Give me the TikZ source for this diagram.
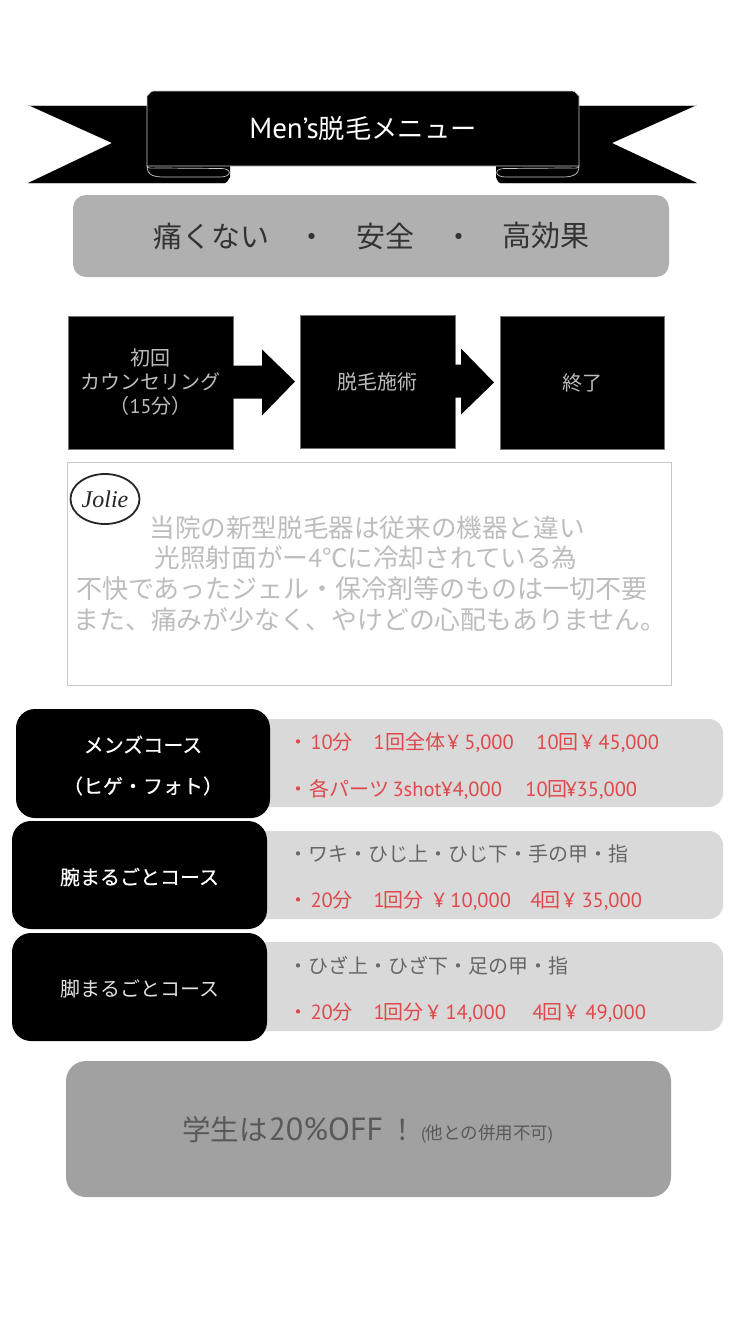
\documentclass[tikz,border=0pt]{standalone}
\usepackage{fontspec}
\setmainfont{Noto Sans CJK JP}
\newfontfamily\lat{PT Sans}
\newfontfamily\logo{Liberation Serif}
\newfontfamily\semi[FakeBold=0.4]{Noto Sans CJK JP}
\usetikzlibrary{calc,shapes.geometric}
\definecolor{outl}{HTML}{C8C8C8}
\definecolor{softg}{HTML}{BDBDBD}
\definecolor{pink}{HTML}{E0484C}
\definecolor{darkg}{HTML}{666666}
\newcommand{\fs}[1]{\fontsize{#1}{#1}\selectfont}
\tikzset{
 x=1pt,y=-1pt,
 panel/.style={inner sep=0pt,outer sep=0pt,align=center},
 solidbox/.style={panel,fill=black,draw=black!55!white,line width=.6pt},
 flowtext/.style={text=softg,font={\fontsize{20}{24}\selectfont}},
 coursebox/.style={panel,fill=black,rounded corners=19pt,text=white},
 pricebar/.style={panel,fill=black!15,rounded corners=14pt},
 priceline/.style={anchor=west,inner sep=0pt,outer sep=0pt,font=\fs{20}},
 ribbon/.style={fill=black,draw=outl,line width=.7pt,line join=round},
 fold/.style={draw=outl,line width=.7pt},
 flowarrow/.style={fill=black},
 bodytext/.style={panel,text=softg,font=\fs{25.6}},
}
\newcommand{\atx}[2]{\rlap{\hspace*{#1pt}#2}}
\newcommand{\nm}[1]{{\lat\fs{20.5}#1}}
\newcommand{\low}[1]{\raisebox{-2pt}[0.88em][0.12em]{#1}}
\newcommand{\boxat}[7]{\node[#2,minimum width={(#5-#3)*1pt},minimum height={(#6-#4)*1pt}] (#1) at ({(#3+#5)/2},{(#4+#6)/2}) {#7};}
\begin{document}
\begin{tikzpicture}
\useasboundingbox (0,0) rectangle (750,1334);
% ribbon
\fill[ribbon,draw=none] (147,105) -- (28,105) -- (112,143) -- (28,183) -- (225,183) to[out=0,in=90] (230,178) -- (230,160) -- (147,160) -- cycle;
\fill[ribbon,draw=none] (579,105) -- (697,105) -- (612,143) -- (697,183) -- (500,183) to[out=180,in=90] (496,178) -- (496,160) -- (579,160) -- cycle;
\draw[outl,line width=.5pt] (28,105) -- (147,105) (579,105) -- (697,105) (28,183) -- (225,183) (500,183) -- (697,183);
\draw[ribbon] (147,166) -- (147,95) to[out=-90,in=180] (153,91) -- (573,91) to[out=0,in=-90] (579,95) -- (579,166) -- cycle;
\draw[fold] (147,166) .. controls (147,176) and (155,177) .. (165,177) -- (220,177) .. controls (232,177) and (232,169) .. (222,168.5) -- (160,168) .. controls (152,168) and (147,169) .. (147,166);
\draw[fold] (579,166) .. controls (579,176) and (571,177) .. (561,177) -- (506,177) .. controls (494,177) and (494,169) .. (504,168.5) -- (566,168) .. controls (574,168) and (579,169) .. (579,166);
\node[panel,text=white] (title) at (363,129) {{\lat\fs{29}Men’s}\fs{26.3}脱毛メニュー};
% slogan
\boxat{slogan}{panel,fill=black!31,rounded corners=13pt}{73}{195}{669}{277}{}
\node[panel,text=black!80] (s1) at (211,236) {\fs{29}痛くない};
\node[panel,text=black!80] (s2) at (312,240) {\fs{29}・};
\node[panel,text=black!80] (s3) at (385,236) {\fs{29}安全};
\node[panel,text=black!80] (s4) at (459,240) {\fs{29}・};
\node[panel,text=black!80] (s5) at (546,236) {\fs{29}高効果};
% flow
\boxat{f1}{solidbox,flowtext}{68}{316}{233}{449}{初回\\カウンセリング\\（{\lat\fs{20}15}分）}
\boxat{f2}{solidbox,flowtext}{300}{315}{455}{448}{脱毛施術}
\boxat{f3}{solidbox,flowtext}{500}{316}{664}{449}{終了}
\fill[flowarrow] ($(f1.east)+(-1,-17)$) -- ($(f1.east)+(29,-17)$) -- ($(f1.east)+(29,-33)$) -- ($(f2.west)+(-5,0)$) -- ($(f1.east)+(29,33)$) -- ($(f1.east)+(29,16)$) -- ($(f1.east)+(-1,16)$) -- cycle;
\fill[flowarrow] ($(f2.east)+(-1,-17)$) -- ($(f2.east)+(6,-17)$) -- ($(f2.east)+(6,-33)$) -- ($(f3.west)+(-6,0)$) -- ($(f2.east)+(6,33)$) -- ($(f2.east)+(6,16)$) -- ($(f2.east)+(-1,16)$) -- cycle;
% info
\boxat{info}{panel,draw=outl,line width=1pt,fill=white}{67}{462}{671}{685}{}
\node[panel,draw=black!85,line width=1.8pt,ellipse,minimum width=69pt,minimum height=50pt] (logo) at (105,499) {};
\node[panel,text=black!85] (logot) at (105,499) {\fs{24}{\logo\itshape Jolie}};
\node[bodytext] (t1) at (367,528) {当院の新型脱毛器は従来の機器と違い};
\node[bodytext] (t2) at (366,558) {光照射面がー{\lat 4}℃に冷却されている為};
\node[bodytext,font=\fs{26}] (t3) at (362,589) {不快であったジェル・保冷剤等のものは一切不要};
\node[bodytext,font=\fs{25.8}] (t4) at (370,620) {また、痛みが少なく、やけどの心配もありません。};
% courses
\boxat{p1}{pricebar}{250}{719}{723}{807}{}
\boxat{p2}{pricebar}{250}{831}{723}{919}{}
\boxat{p3}{pricebar}{250}{942}{723}{1031}{}
\boxat{c1}{coursebox,font={\fontsize{20}{41}\selectfont\semi}}{16}{709}{270}{818}{\low{メンズコース}\\\low{（ヒゲ・フォト）}}
\boxat{c2}{coursebox,font={\fs{20}\semi}}{12}{821}{267}{929}{\low{腕まるごとコース}}
\boxat{c3}{coursebox,text=black!12,font=\fs{20}}{12}{933}{267}{1041}{\low{脚まるごとコース}}
\node[priceline,text=pink] (l1) at (288,743) {\atx{0}{・}\atx{22}{\nm{10}}\atx{44}{分}\atx{85}{\nm{1}}\atx{97}{回全体}\atx{159}{\nm{¥}}\atx{176}{\nm{5,000}}\atx{248}{\nm{10}}\atx{270}{回}\atx{293}{\nm{¥}}\atx{310}{\nm{45,000}}};
\node[priceline,text=pink] (l2) at (288,790) {\atx{0}{・}\atx{21}{各パーツ}\atx{104}{\nm{3shot¥4,000}}\atx{237}{\nm{10}}\atx{259}{回}\atx{277}{\nm{¥35,000}}};
\node[priceline,text=darkg] (l3) at (288,854) {\atx{0}{・}\atx{20}{ワキ・ひじ上・ひじ下・手の甲・指}};
\node[priceline,text=pink] (l4) at (288,901) {\atx{0}{・}\atx{22}{\nm{20}}\atx{44}{分}\atx{85}{\nm{1}}\atx{95}{回分}\atx{145}{\nm{¥}}\atx{162}{\nm{10,000}}\atx{242}{\nm{4}}\atx{252}{回}\atx{275}{\nm{¥}}\atx{293}{\nm{35,000}}};
\node[priceline,text=darkg] (l5) at (288,966) {\atx{0}{・}\atx{20}{ひざ上・ひざ下・足の甲・指}};
\node[priceline,text=pink] (l6) at (288,1013) {\atx{0}{・}\atx{22}{\nm{20}}\atx{44}{分}\atx{85}{\nm{1}}\atx{95}{回分}\atx{139}{\nm{¥}}\atx{157}{\nm{14,000}}\atx{244}{\nm{4}}\atx{254}{回}\atx{277}{\nm{¥}}\atx{297}{\nm{49,000}}};
% student
\boxat{student}{panel,fill=black!37,rounded corners=20pt}{66}{1061}{671}{1197}{}
\node[priceline,text=black!65] (stud) at (182,1130) {\fs{28.5}学生は\atx{1}{\lat\fs{32}20\%OFF}\atx{121}{！}};
\node[priceline,text=black!65] (studnote) at (421,1134) {\fs{17.5}{\lat (}他との併用不可{\lat )}};
\end{tikzpicture}
\end{document}
